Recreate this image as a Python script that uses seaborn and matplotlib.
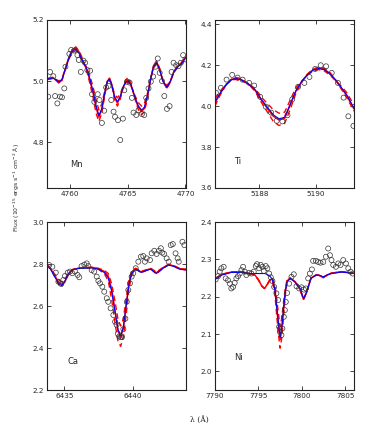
import numpy as np
import pandas as pd
import matplotlib
matplotlib.use("Agg")
import matplotlib.pyplot as plt
import seaborn as sns

# ---- Mn 4760-4770 ----
mn_obs_lam = [4758.1, 4758.26, 4758.55, 4758.7, 4758.9, 4759.13, 4759.3, 4759.5, 4759.6, 4759.94,
              4760.1, 4760.35, 4760.64, 4760.76, 4760.93, 4761.16, 4761.3, 4761.5, 4761.74, 4761.9,
              4762.1, 4762.4, 4762.55, 4762.76, 4762.96, 4763.13, 4763.33, 4763.57, 4763.77, 4763.9,
              4764.15, 4764.35, 4764.58, 4764.7, 4764.93, 4765.16, 4765.36, 4765.5, 4765.74, 4765.94,
              4766.23, 4766.43, 4766.6, 4766.8, 4767.0, 4767.2, 4767.4, 4767.6, 4767.77, 4767.97,
              4768.17, 4768.4, 4768.63, 4768.8, 4768.97, 4769.2, 4769.4, 4769.6, 4769.8, 4770.0]
mn_obs_flux = [4.949, 5.03, 5.016, 4.951, 4.927, 4.949, 4.947, 4.976, 5.047, 5.089,
               5.102, 5.1, 5.085, 5.069, 5.03, 5.067, 5.06, 5.036, 5.034, 4.957,
               4.932, 4.957, 4.938, 4.863, 4.903, 4.979, 4.984, 4.938, 4.9, 4.883,
               4.872, 4.807, 4.877, 4.97, 4.998, 4.995, 4.945, 4.897, 4.889, 4.905,
               4.892, 4.889, 4.945, 4.976, 4.998, 5.015, 5.047, 5.074, 5.027, 5.0,
               4.951, 4.909, 4.918, 5.03, 5.06, 5.052, 5.049, 5.06, 5.085, 5.071]
mn_mod_lam = [4758.0, 4758.5, 4758.8, 4759.05, 4759.3, 4759.6, 4759.9, 4760.2, 4760.5, 4760.8,
              4761.1, 4761.4, 4761.7, 4762.0, 4762.25, 4762.5, 4762.75, 4763.0, 4763.2, 4763.4,
              4763.6, 4763.85, 4764.1, 4764.35, 4764.6, 4764.85, 4765.05, 4765.3, 4765.6, 4765.9,
              4766.2, 4766.45, 4766.75, 4767.0, 4767.25, 4767.5, 4767.75, 4768.05, 4768.4, 4768.7,
              4769.0, 4769.3, 4769.6, 4770.0]
mn_blue = [5.006, 5.010, 5.004, 4.997, 5.005, 5.040, 5.075, 5.098, 5.105, 5.090,
           5.065, 5.045, 5.010, 4.965, 4.920, 4.887, 4.910, 4.960, 4.995, 5.007,
           4.990, 4.950, 4.932, 4.950, 4.980, 4.998, 5.000, 4.985, 4.950, 4.920,
           4.905, 4.915, 4.960, 5.010, 5.048, 5.060, 5.040, 5.000, 4.980, 5.000,
           5.030, 5.045, 5.055, 5.074]
mn_red = [5.008, 5.012, 5.003, 4.995, 5.004, 5.042, 5.078, 5.102, 5.110, 5.094,
          5.066, 5.042, 5.005, 4.960, 4.914, 4.882, 4.906, 4.958, 4.996, 5.009,
          4.991, 4.948, 4.928, 4.947, 4.980, 5.000, 5.003, 4.986, 4.948, 4.916,
          4.900, 4.911, 4.958, 5.010, 5.050, 5.063, 5.042, 5.000, 4.978, 4.999,
          5.031, 5.047, 5.057, 5.077]
mn_dash_hi = [5.007, 5.012, 5.002, 4.992, 5.002, 5.040, 5.078, 5.103, 5.112, 5.098,
              5.072, 5.040, 4.995, 4.945, 4.895, 4.868, 4.895, 4.950, 4.998, 5.012,
              4.992, 4.940, 4.918, 4.940, 4.978, 5.005, 5.012, 4.992, 4.945, 4.908,
              4.890, 4.900, 4.952, 5.010, 5.052, 5.066, 5.044, 4.998, 4.975, 4.998,
              5.032, 5.048, 5.058, 5.078]
mn_dash_lo = [5.005, 5.008, 5.005, 5.000, 5.008, 5.042, 5.072, 5.094, 5.100, 5.085,
              5.060, 5.048, 5.020, 4.980, 4.940, 4.905, 4.925, 4.968, 4.994, 5.003,
              4.990, 4.958, 4.945, 4.958, 4.983, 4.996, 4.995, 4.982, 4.955, 4.930,
              4.918, 4.928, 4.966, 5.010, 5.044, 5.055, 5.037, 5.002, 4.985, 5.002,
              5.028, 5.043, 5.053, 5.071]

# ---- Ti 5188 ----
ti_obs_lam = [5186.46, 5186.64, 5186.84, 5187.04, 5187.23, 5187.41, 5187.64, 5187.82, 5188.03, 5188.23,
              5188.42, 5188.62, 5188.82, 5189.0, 5189.17, 5189.38, 5189.6, 5189.78, 5189.98, 5190.18,
              5190.37, 5190.57, 5190.79, 5190.99, 5191.16, 5191.34]
ti_obs_flux = [4.065, 4.089, 4.129, 4.152, 4.139, 4.129, 4.113, 4.1, 4.045, 3.997,
               3.968, 3.928, 3.925, 3.955, 4.033, 4.094, 4.113, 4.142, 4.181, 4.199,
               4.194, 4.162, 4.113, 4.041, 3.95, 3.903]
ti_mod_lam = [5186.43, 5186.6, 5186.8, 5187.0, 5187.15, 5187.35, 5187.6, 5187.85, 5188.1, 5188.3,
              5188.5, 5188.7, 5188.9, 5189.1, 5189.3, 5189.5, 5189.7, 5189.9, 5190.1, 5190.3,
              5190.5, 5190.7, 5190.9, 5191.1, 5191.36]
ti_blue = [4.020, 4.060, 4.100, 4.127, 4.134, 4.128, 4.110, 4.080, 4.028, 3.992,
           3.957, 3.938, 3.945, 4.010, 4.075, 4.118, 4.152, 4.174, 4.183, 4.178,
           4.158, 4.128, 4.092, 4.055, 3.990]
ti_red = [4.015, 4.058, 4.100, 4.128, 4.136, 4.130, 4.110, 4.078, 4.024, 3.986,
          3.950, 3.932, 3.940, 4.006, 4.073, 4.118, 4.153, 4.176, 4.186, 4.180,
          4.160, 4.128, 4.090, 4.052, 3.985]
ti_dash_hi = [4.000, 4.050, 4.098, 4.130, 4.140, 4.134, 4.110, 4.072, 4.012, 3.968,
              3.925, 3.905, 3.915, 3.985, 4.062, 4.115, 4.155, 4.180, 4.190, 4.185,
              4.165, 4.130, 4.085, 4.042, 3.975]
ti_dash_lo = [4.035, 4.070, 4.104, 4.125, 4.130, 4.124, 4.110, 4.086, 4.040, 4.010,
              3.982, 3.965, 3.970, 4.030, 4.090, 4.122, 4.150, 4.170, 4.178, 4.172,
              4.152, 4.125, 4.098, 4.066, 4.005]

# ---- Ca 6439 ----
ca_obs_lam = [6433.9, 6434.13, 6434.38, 6434.57, 6434.77, 6434.93, 6435.05, 6435.25, 6435.42, 6435.58,
              6435.78, 6435.97, 6436.09, 6436.26, 6436.46, 6436.63, 6436.75, 6436.99, 6437.18, 6437.36,
              6437.48, 6437.6, 6437.77, 6437.91, 6438.09, 6438.2, 6438.37, 6438.57, 6438.7, 6438.8,
              6438.9, 6439.0, 6439.1, 6439.2, 6439.3, 6439.45, 6439.55, 6439.66, 6439.78, 6439.9,
              6440.02, 6440.2, 6440.39, 6440.58, 6440.75, 6440.87, 6441.0, 6441.24, 6441.36, 6441.55,
              6441.72, 6441.89, 6442.03, 6442.13, 6442.27, 6442.45, 6442.6, 6442.75, 6442.9, 6443.1,
              6443.25, 6443.33, 6443.6, 6443.74]
ca_obs_flux = [2.795, 2.787, 2.759, 2.716, 2.705, 2.724, 2.743, 2.759, 2.764, 2.756,
               2.764, 2.748, 2.737, 2.790, 2.797, 2.803, 2.790, 2.771, 2.764, 2.740,
               2.720, 2.708, 2.692, 2.668, 2.637, 2.620, 2.589, 2.557, 2.525, 2.511,
               2.468, 2.455, 2.452, 2.452, 2.490, 2.540, 2.620, 2.676, 2.708, 2.740,
               2.756, 2.780, 2.811, 2.835, 2.838, 2.811, 2.827, 2.819, 2.851, 2.863,
               2.848, 2.863, 2.875, 2.854, 2.848, 2.827, 2.811, 2.890, 2.895, 2.851,
               2.827, 2.811, 2.906, 2.890]
ca_mod_lam = [6433.75, 6434.0, 6434.3, 6434.6, 6434.8, 6435.05, 6435.3, 6435.6, 6436.0, 6436.5,
              6437.0, 6437.5, 6437.9, 6438.2, 6438.45, 6438.7, 6438.9, 6439.1, 6439.3, 6439.5,
              6439.7, 6439.9, 6440.2, 6440.6, 6441.0, 6441.3, 6441.7, 6442.2, 6442.6, 6443.0,
              6443.4, 6443.85]
ca_blue = [2.790, 2.775, 2.740, 2.705, 2.697, 2.720, 2.755, 2.773, 2.778, 2.780,
           2.782, 2.775, 2.760, 2.735, 2.670, 2.570, 2.490, 2.457, 2.500, 2.600,
           2.700, 2.755, 2.775, 2.760, 2.770, 2.775, 2.755, 2.780, 2.795, 2.788,
           2.775, 2.772]
ca_red = [2.795, 2.778, 2.745, 2.712, 2.703, 2.718, 2.750, 2.772, 2.780, 2.783,
          2.784, 2.778, 2.765, 2.742, 2.680, 2.575, 2.485, 2.450, 2.495, 2.600,
          2.705, 2.760, 2.778, 2.762, 2.772, 2.778, 2.758, 2.783, 2.798, 2.790,
          2.778, 2.774]
ca_dash_hi = [2.795, 2.778, 2.740, 2.700, 2.692, 2.715, 2.752, 2.773, 2.780, 2.783,
              2.783, 2.774, 2.755, 2.720, 2.630, 2.515, 2.435, 2.408, 2.450, 2.555,
              2.675, 2.748, 2.776, 2.758, 2.770, 2.776, 2.752, 2.781, 2.797, 2.789,
              2.776, 2.772]
ca_dash_lo = [2.795, 2.779, 2.752, 2.725, 2.715, 2.728, 2.757, 2.774, 2.780, 2.783,
              2.784, 2.779, 2.770, 2.755, 2.705, 2.620, 2.540, 2.505, 2.540, 2.635,
              2.722, 2.765, 2.780, 2.765, 2.773, 2.779, 2.762, 2.784, 2.798, 2.791,
              2.779, 2.775]

# ---- Ni 7797 ----
ni_obs_lam = [7790.08, 7790.35, 7790.54, 7790.73, 7791.0, 7791.23, 7791.5, 7791.7, 7791.88, 7792.08,
              7792.27, 7792.46, 7792.65, 7792.85, 7793.04, 7793.23, 7793.43, 7793.61, 7793.92, 7794.19,
              7794.46, 7794.69, 7794.84, 7795.07, 7795.27, 7795.46, 7795.62, 7795.85, 7796.03, 7796.23,
              7796.42, 7796.61, 7796.81, 7797.07, 7797.27, 7797.38, 7797.46, 7797.65, 7797.76, 7797.92,
              7798.04, 7798.15, 7798.3, 7798.53, 7798.8, 7799.07, 7799.38, 7799.69, 7799.95, 7800.23,
              7800.46, 7800.73, 7800.92, 7801.15, 7801.3, 7801.61, 7801.88, 7802.14, 7802.46, 7802.77,
              7803.03, 7803.23, 7803.41, 7803.61, 7803.92, 7804.19, 7804.45, 7804.76, 7805.07, 7805.34,
              7805.6, 7805.84]
ni_obs_flux = [2.246, 2.255, 2.267, 2.276, 2.28, 2.249, 2.244, 2.235, 2.222, 2.226,
               2.237, 2.249, 2.255, 2.262, 2.271, 2.28, 2.267, 2.258, 2.264, 2.262,
               2.267, 2.282, 2.287, 2.276, 2.285, 2.28, 2.269, 2.282, 2.276, 2.262,
               2.252, 2.242, 2.226, 2.209, 2.191, 2.119, 2.106, 2.097, 2.115, 2.146,
               2.164, 2.186, 2.21, 2.235, 2.253, 2.26, 2.228, 2.222, 2.225, 2.219,
               2.222, 2.249, 2.262, 2.273, 2.296, 2.296, 2.293, 2.291, 2.293, 2.307,
               2.329, 2.311, 2.298, 2.285, 2.28, 2.289, 2.285, 2.298, 2.289, 2.276,
               2.267, 2.262]
ni_mod_lam = [7790.0, 7790.8, 7791.9, 7793.1, 7794.0, 7794.6, 7795.0, 7795.4, 7795.7, 7796.0,
              7796.3, 7796.6, 7796.9, 7797.1, 7797.3, 7797.5, 7797.7, 7797.9, 7798.1, 7798.3,
              7798.65, 7799.2, 7799.8, 7800.0, 7800.2, 7800.55, 7801.05, 7801.7, 7802.1, 7802.46,
              7802.9, 7803.4, 7804.6, 7805.95]
ni_blue = [2.246, 2.258, 2.265, 2.265, 2.262, 2.262, 2.262, 2.262, 2.262, 2.260,
           2.255, 2.247, 2.218, 2.175, 2.130, 2.092, 2.120, 2.170, 2.215, 2.240,
           2.249, 2.240, 2.222, 2.208, 2.195, 2.213, 2.249, 2.258, 2.257, 2.253,
           2.258, 2.262, 2.266, 2.262]
ni_red = [2.248, 2.260, 2.266, 2.266, 2.262, 2.258, 2.245, 2.228, 2.222, 2.232,
          2.244, 2.247, 2.220, 2.172, 2.125, 2.085, 2.115, 2.168, 2.215, 2.242,
          2.250, 2.240, 2.220, 2.205, 2.193, 2.212, 2.250, 2.259, 2.256, 2.251,
          2.258, 2.263, 2.267, 2.263]
ni_dash_hi = [2.247, 2.259, 2.266, 2.266, 2.262, 2.258, 2.245, 2.228, 2.222, 2.232,
              2.243, 2.243, 2.205, 2.150, 2.100, 2.062, 2.092, 2.148, 2.205, 2.240,
              2.250, 2.240, 2.220, 2.205, 2.193, 2.212, 2.250, 2.259, 2.256, 2.251,
              2.258, 2.263, 2.267, 2.263]
ni_dash_lo = [2.248, 2.260, 2.266, 2.266, 2.262, 2.258, 2.245, 2.228, 2.222, 2.232,
              2.245, 2.250, 2.232, 2.195, 2.155, 2.120, 2.145, 2.188, 2.225, 2.245,
              2.250, 2.240, 2.220, 2.205, 2.193, 2.212, 2.250, 2.259, 2.256, 2.251,
              2.258, 2.263, 2.267, 2.263]

sns.set_style("ticks")
plt.rcParams['font.family'] = ['DejaVu Sans']
plt.rcParams['xtick.direction'] = 'in'
plt.rcParams['ytick.direction'] = 'in'
plt.rcParams['xtick.top'] = True
plt.rcParams['ytick.right'] = True

fig = plt.figure(figsize=(3.75, 4.3), dpi=100)

panels = [
    # name, obs, model, rect, xlim, ylim, xticks, yticks, label pos
    ("Mn", mn_obs_lam, mn_obs_flux, mn_mod_lam, mn_blue, mn_red, mn_dash_hi, mn_dash_lo,
     [0.1253, 0.5628, 0.3707, 0.3907], (4758, 4770.05), (4.65, 5.2),
     [4760, 4765, 4770], [4.8, 5.0, 5.2], (4760.0, 4.728)),
    ("Ti", ti_obs_lam, ti_obs_flux, ti_mod_lam, ti_blue, ti_red, ti_dash_hi, ti_dash_lo,
     [0.5733, 0.5628, 0.3707, 0.3907], (5186.43, 5191.36), (3.6, 4.42),
     [5188, 5190], [3.6, 3.8, 4.0, 4.2, 4.4], (5187.1, 3.73)),
    ("Ca", ca_obs_lam, ca_obs_flux, ca_mod_lam, ca_blue, ca_red, ca_dash_hi, ca_dash_lo,
     [0.1253, 0.093, 0.3707, 0.3907], (6433.74, 6443.86), (2.2, 3.0),
     [6435, 6440], [2.2, 2.4, 2.6, 2.8, 3.0], (6435.2, 2.335)),
    ("Ni", ni_obs_lam, ni_obs_flux, ni_mod_lam, ni_blue, ni_red, ni_dash_hi, ni_dash_lo,
     [0.5733, 0.093, 0.3707, 0.3907], (7790, 7806), (1.95, 2.4),
     [7790, 7795, 7800, 7805], [2.0, 2.1, 2.2, 2.3, 2.4], (7792.2, 2.038)),
]

for (name, olam, oflux, mlam, blue, red, dhi, dlo, rect, xlim, ylim,
     xt, yt, lpos) in panels:
    ax = fig.add_axes(rect)
    sns.lineplot(x=mlam, y=dhi, ax=ax, color='red', lw=1.0, linestyle=(0, (4, 2.5)),
                 estimator=None, sort=False)
    sns.lineplot(x=mlam, y=dlo, ax=ax, color='red', lw=1.0, linestyle=(0, (4, 2.5)),
                 estimator=None, sort=False)
    sns.lineplot(x=mlam, y=red, ax=ax, color='red', lw=1.1, estimator=None, sort=False)
    sns.lineplot(x=mlam, y=blue, ax=ax, color='blue', lw=0.8, estimator=None, sort=False)
    sns.scatterplot(x=olam, y=oflux, ax=ax, marker='o', s=13, facecolor='none',
                    edgecolor='#333333', linewidth=0.5, zorder=5)
    ax.set_xlim(*xlim)
    ax.set_ylim(*ylim)
    ax.set_xticks(xt)
    ax.set_yticks(yt)
    ax.set_xticklabels([str(v) for v in xt])
    ax.set_yticklabels(["%.1f" % v for v in yt])
    ax.tick_params(labelsize=5.2, length=3, width=0.6, pad=2)
    for sp in ax.spines.values():
        sp.set_linewidth(0.8)
        sp.set_color('#222222')
    ax.text(lpos[0], lpos[1], name, fontsize=6, va='center', ha='left')

fig.text(0.045, 0.563, "Flux (10$^{-15}$ ergs s$^{-1}$ cm$^{-2}$ \u00c5)", rotation=90,
         va='center', ha='center', fontsize=4.4)
fig.text(0.533, 0.024, "\u03bb (\u00c5)", va='center', ha='center', fontsize=5.5,
         family=['DejaVu Serif'])

fig.savefig("out.png", dpi=100)
